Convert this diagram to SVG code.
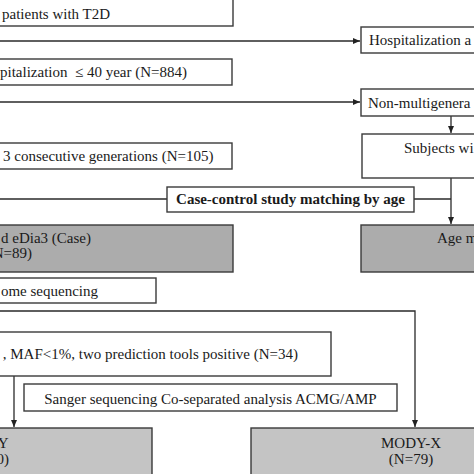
<svg xmlns="http://www.w3.org/2000/svg" width="474" height="474" viewBox="0 0 474 474">
<defs>
<marker id="ah" markerWidth="7" markerHeight="6" refX="7" refY="3" orient="auto" markerUnits="userSpaceOnUse">
<path d="M0,0 L7,3 L0,6 Z" fill="#222"/>
</marker>
<style>
.b{fill:#fff;stroke:#3a3a3a;stroke-width:1.4}
.g1{fill:#acacac;stroke:#3a3a3a;stroke-width:1.4}
.g2{fill:#c4c4c4;stroke:#3a3a3a;stroke-width:1.4}
.t{font-family:"Liberation Serif","Times New Roman",serif;font-size:15px;fill:#1a1a1a}
.bd{font-weight:bold}
.c{fill:none;stroke:#2a2a2a;stroke-width:1.3}
</style>
</defs>
<rect width="474" height="474" fill="#fff"/>
<g id="connectors">
<line class="c" x1="0" y1="41" x2="360" y2="41" marker-end="url(#ah)"/>
<line class="c" x1="0" y1="102" x2="360" y2="102" marker-end="url(#ah)"/>
<line class="c" x1="451" y1="116" x2="451" y2="133" marker-end="url(#ah)"/>
<line class="c" x1="0" y1="199" x2="167" y2="199"/>
<line class="c" x1="414" y1="199" x2="451" y2="199"/>
<line class="c" x1="451" y1="178" x2="451" y2="224" marker-end="url(#ah)"/>
<polyline class="c" points="0,311 415,311 415,427" marker-end="url(#ah)"/>
<line class="c" x1="14" y1="376" x2="14" y2="427" marker-end="url(#ah)"/>
</g>
<g id="n1"><rect class="b" x="-2" y="-1" width="235" height="27"/><text class="t" x="2" y="19">patients with T2D</text></g>
<g id="n2"><rect class="b" x="361" y="27" width="130" height="26"/><text class="t" x="369" y="45">Hospitalization a</text></g>
<g id="n3"><rect class="b" x="-2" y="59" width="234" height="26"/><text class="t" x="0" y="77" xml:space="preserve" style="white-space:pre">pitalization  ≤ 40 year (N=884)</text></g>
<g id="n4"><rect class="b" x="361" y="89" width="130" height="27"/><text class="t" x="368" y="108">Non-multigenera</text></g>
<g id="n5"><rect class="b" x="362" y="134" width="130" height="44"/><text class="t" x="404" y="153">Subjects wi</text></g>
<g id="n6"><rect class="b" x="-2" y="143" width="234" height="26"/><text class="t" x="3" y="161">3 consecutive generations (N=105)</text></g>
<g id="n7"><rect class="b" x="167" y="187" width="247" height="25"/><text class="t bd" x="290.5" y="204" text-anchor="middle">Case-control study matching by age</text></g>
<g id="n8"><rect class="g1" x="-2" y="225" width="235" height="47"/><text class="t" x="91" y="243" text-anchor="end">d eDia3 (Case)</text><text class="t" x="32" y="258" text-anchor="end">(N=89)</text></g>
<g id="n9"><rect class="g1" x="361" y="225" width="130" height="47"/><text class="t" x="437" y="243">Age m</text></g>
<g id="n10"><rect class="b" x="-2" y="278" width="158" height="25"/><text class="t" x="98" y="296" text-anchor="end">ome sequencing</text></g>
<g id="n11"><rect class="b" x="-2" y="332" width="333" height="44"/><text class="t" x="298" y="359" text-anchor="end">, MAF&lt;1%, two prediction tools positive (N=34)</text></g>
<g id="n12"><rect class="b" x="24" y="384" width="373" height="27"/><text class="t" x="210.5" y="404" text-anchor="middle">Sanger sequencing Co-separated analysis ACMG/AMP</text></g>
<g id="n13"><rect class="g2" x="-2" y="428" width="154" height="50"/><text class="t" x="8.5" y="448" text-anchor="end">Y</text><text class="t" x="9" y="464" text-anchor="end">0)</text></g>
<g id="n14"><rect class="g2" x="251" y="428" width="240" height="50"/><text class="t" x="411" y="448" text-anchor="middle">MODY-X</text><text class="t" x="411" y="464" text-anchor="middle">(N=79)</text></g>
</svg>
